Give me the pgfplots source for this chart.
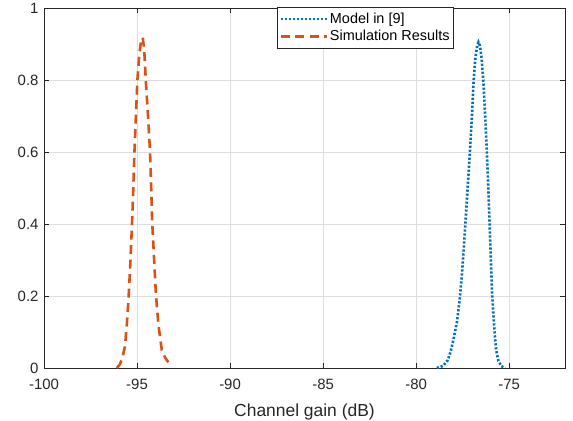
\documentclass[border=0pt]{standalone}
\usepackage{pgfplots}
\pgfplotsset{compat=1.18}
\usepackage{fontspec}
\setmainfont{Liberation Sans}
\definecolor{mblue}{rgb}{0,0.447,0.741}
\definecolor{morange}{rgb}{0.85,0.325,0.098}
\definecolor{gridgray}{gray}{0.87}
\definecolor{axgray}{gray}{0.15}
\begin{document}
\begin{tikzpicture}
\begin{axis}[
  scale only axis,
  width=521bp, height=360bp,
  xmin=-100, xmax=-72,
  ymin=0, ymax=1,
  xtick={-100,-95,...,-75},
  ytick={0,0.2,...,1},
  yticklabel style={/pgf/number format/fixed, xshift=-2bp},
  xticklabel style={yshift=-8bp},
  /pgf/number format/assume math mode=true,
  tick label style={font=\fontsize{15}{17}\selectfont, text=axgray},
  xlabel={Channel gain (dB)},
  xlabel style={font=\fontsize{17.5}{20}\selectfont, text=axgray, yshift=-7bp},
  grid=major,
  major grid style={gridgray, line width=0.6pt},
  axis line style={axgray, line width=0.7pt},
  tick style={axgray, line width=0.7pt},
  tick align=inside,
  major tick length=5bp,
  legend style={at={(0.617,1.004)}, anchor=north, font=\fontsize{14.5}{16}\selectfont,
    draw=axgray, line width=0.6pt, inner xsep=2bp, inner ysep=4bp, row sep=1.5bp, text=black},
  legend cell align=left,
  legend image code/.code={\draw[#1] (0bp,0bp) -- (46bp,0bp);},
]
\addplot[mblue, line width=2.6bp, dash pattern=on 2.2bp off 1.8bp] coordinates {
(-78.89,0.0) (-78.55,0.006) (-78.30,0.022) (-78.15,0.045) (-77.99,0.08) (-77.80,0.13)
(-77.66,0.19) (-77.54,0.26) (-77.43,0.34) (-77.33,0.42) (-77.22,0.51) (-77.10,0.61)
(-76.99,0.71) (-76.92,0.79) (-76.82,0.86) (-76.72,0.895) (-76.65,0.905) (-76.57,0.895)
(-76.48,0.86) (-76.38,0.79) (-76.29,0.70) (-76.20,0.60) (-76.12,0.50) (-76.06,0.41)
(-75.99,0.31) (-75.93,0.22) (-75.85,0.15) (-75.77,0.09) (-75.70,0.05) (-75.58,0.02)
(-75.42,0.005) (-75.22,0.0)
};
\addlegendentry{Model in [9]}
\addplot[morange, line width=2.6bp, dash pattern=on 9bp off 5.5bp] coordinates {
(-96.09,0.0) (-95.92,0.01) (-95.78,0.03) (-95.65,0.06) (-95.55,0.12) (-95.46,0.19)
(-95.37,0.28) (-95.27,0.40) (-95.20,0.50) (-95.14,0.60) (-95.06,0.70) (-94.98,0.80)
(-94.88,0.87) (-94.78,0.91) (-94.69,0.918) (-94.61,0.88) (-94.53,0.80) (-94.41,0.70)
(-94.30,0.60) (-94.24,0.50) (-94.18,0.40) (-94.08,0.30) (-93.98,0.20) (-93.85,0.12)
(-93.67,0.05) (-93.50,0.03) (-93.32,0.016)
};
\addlegendentry{Simulation Results}
\end{axis}
\pgfresetboundingbox
\path[use as bounding box] ([xshift=-44bp,yshift=-53bp]current axis.south west)
  rectangle ([xshift=8bp,yshift=8bp]current axis.north east);
\end{tikzpicture}
\end{document}
